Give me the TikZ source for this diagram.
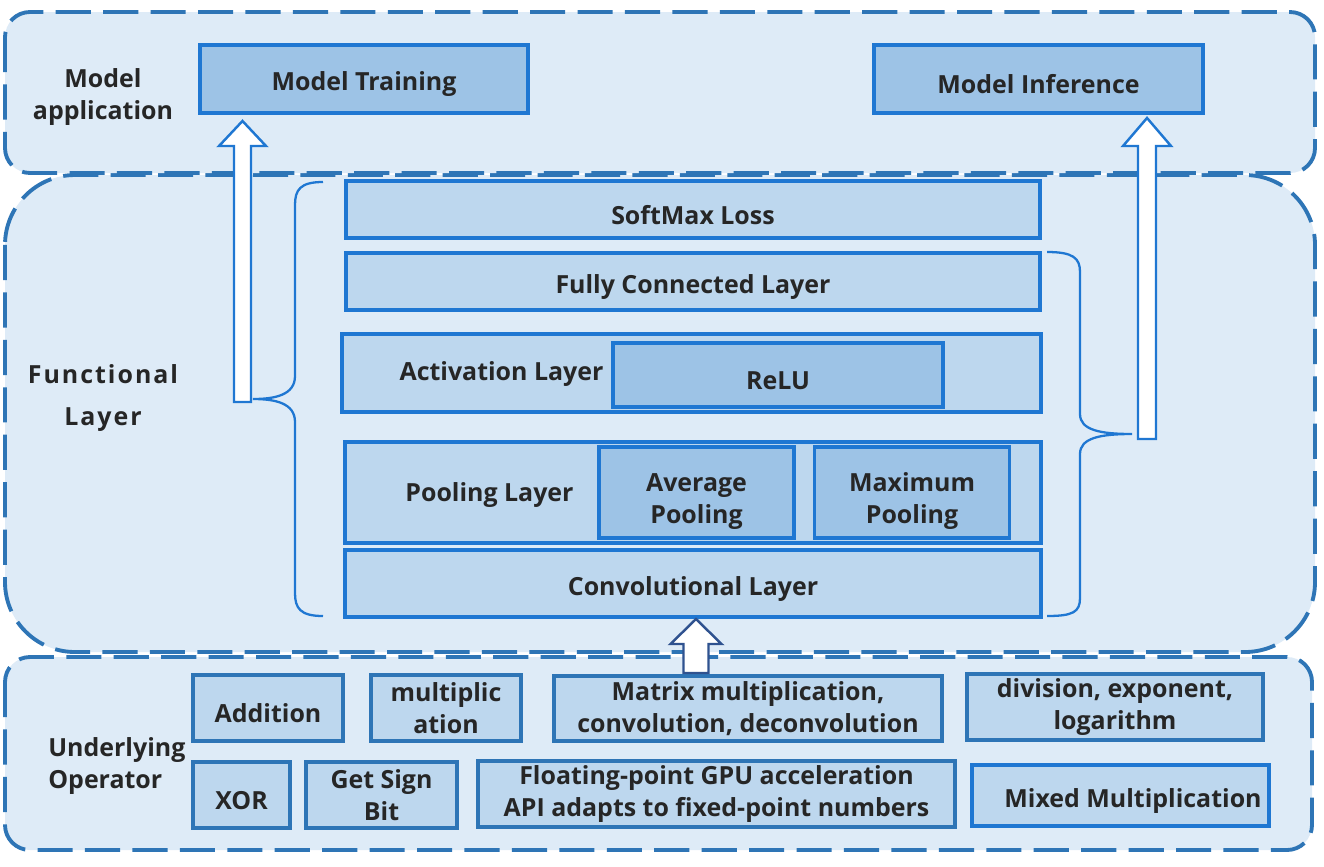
\documentclass[tikz,border=0pt]{standalone}
\usepackage{fontspec}
\setmainfont{Open Sans}
\usepackage{tikz}
\usetikzlibrary{calc}

\definecolor{regionfill}{RGB}{222,235,247}
\definecolor{layerfill}{RGB}{189,215,238}
\definecolor{subfill}{RGB}{157,195,230}
\definecolor{brightblue}{RGB}{31,119,210}
\definecolor{opblue}{RGB}{46,117,182}
\definecolor{navyblue}{RGB}{47,82,143}
\definecolor{txt}{RGB}{38,38,38}

\begin{document}
\begin{tikzpicture}[x=0.02cm,y=-0.02cm,
    every node/.style={font=\bfseries\fontsize{14.2}{18.5}\selectfont,text=txt},
    region/.style={draw=opblue,fill=regionfill,line width=2.2pt,dash pattern=on 20pt off 7pt},
    layerbox/.style={draw=brightblue,fill=layerfill,line width=2pt,inner sep=0pt,align=center,
        execute at begin node={\rule{0pt}{1.2em}}},
    subbox/.style={layerbox,fill=subfill},
    opbox/.style={layerbox,draw=opblue},
    bracket/.style={draw=brightblue,line width=1.3pt},
    hollow/.style={draw=brightblue,fill=white,line width=1.4pt,line join=miter}]
    \useasboundingbox (0,0) rectangle (1324,866);

    % Regions
    \draw[region,rounded corners=1.4cm] (5,175) rectangle (1315,652);
    \draw[region,rounded corners=0.5cm] (5,12) rectangle (1315,173);
    \draw[region,rounded corners=0.5cm] (5,657) rectangle (1312,850);

    % Region labels
    \node[align=center] (app) at (103,97) {Model\\application};
    \node[align=center,font=\bfseries\fontsize{14.2}{24}\selectfont\addfontfeature{LetterSpace=8}] (func) at (103,398) {Functional\\Layer};
    \node[align=left,anchor=west,inner sep=0pt] (oper) at (48,766) {Underlying\\Operator};

    % Model application
    \node[subbox,minimum width=6.56cm,minimum height=1.36cm] (train) at (364,79) {Model Training};
    \node[subbox,minimum width=6.58cm,minimum height=1.36cm] (infer) at (1038.5,79) {Model Inference};

    % Functional layer
    \node[layerbox,minimum width=13.88cm,minimum height=1.14cm] (softmax) at (693,209.5) {SoftMax Loss};
    \node[layerbox,minimum width=13.88cm,minimum height=1.14cm] (fc) at (693,281.5) {Fully Connected Layer};
    \node[layerbox,minimum width=13.98cm,minimum height=1.56cm] (act) at (691.5,373) {};
    \node (actlbl) at (501.5,374) {Activation Layer};
    \node[subbox,minimum width=6.6cm,minimum height=1.28cm] (relu) at (778,375) {ReLU};
    \node[layerbox,minimum width=13.92cm,minimum height=2.02cm] (pool) at (693,492.5) {};
    \node (poollbl) at (489.5,495) {Pooling Layer};
    \node[subbox,minimum width=3.9cm,minimum height=1.82cm] (avg) at (696.5,492.5) {\rule{0pt}{1.45em}Average\\Pooling};
    \node[subbox,minimum width=3.9cm,minimum height=1.82cm] (max) at (912,492.5) {\rule{0pt}{1.45em}Maximum\\Pooling};
    \node[layerbox,minimum width=13.92cm,minimum height=1.34cm] (conv) at (693,583.5) {Convolutional Layer};

    % Underlying operators
    \node[opbox,minimum width=3cm,minimum height=1.32cm] (add) at (268,708) {Addition};
    \node[opbox,minimum width=3cm,minimum height=1.32cm] (mult) at (446,708) {multiplic\\ation};
    \node[opbox,minimum width=7.76cm,minimum height=1.3cm] (matrix) at (748,708.5) {Matrix multiplication,\\convolution, deconvolution};
    \node[opbox,minimum width=5.92cm,minimum height=1.32cm] (div) at (1115,707) {division, exponent,\\logarithm};
    \node[opbox,minimum width=1.94cm,minimum height=1.32cm] (xor) at (241.5,795) {XOR};
    \node[opbox,minimum width=3.02cm,minimum height=1.32cm] (sign) at (381.5,795) {Get Sign\\Bit};
    \node[opbox,minimum width=9.54cm,minimum height=1.32cm] (float) at (716.5,794) {Floating-point GPU acceleration\\API adapts to fixed-point numbers};
    \node[opbox,draw=brightblue,minimum width=5.94cm,minimum height=1.22cm] (mixed) at (1120.5,795.5) {\hspace*{0.5cm}Mixed Multiplication};

    % Braces
    \coordinate (ltip) at (253,399);
    \coordinate (rtip) at (1132,434);
    \draw[bracket] (323,182) .. controls (300,182) and (295,190) .. (295,205) -- (295,376)
        .. controls (295,395) and (275,399) .. (ltip) .. controls (275,399) and (295,403) .. (295,422)
        -- (295,593) .. controls (295,608) and (300,616) .. (323,616);
    \draw[bracket] (1047,252) .. controls (1073,252) and (1080,258) .. (1080,272) -- (1080,414)
        .. controls (1080,430) and (1100,434) .. (rtip) .. controls (1100,434) and (1080,438) .. (1080,454)
        -- (1080,598) .. controls (1080,612) and (1073,616) .. (1047,616);

    % Arrows
    \coordinate (lfoot) at (242.5,402);
    \coordinate (rfoot) at (1147,439);
    \coordinate (bfoot) at (696,673);
    \draw[hollow] (lfoot) ++(-8.5,0) -- ++(0,-256) -- ++(-15,0) -- ++(23.5,-25) -- ++(23.5,25) -- ++(-15,0) -- ++(0,256) -- cycle;
    \draw[hollow] (rfoot) ++(-9,0) -- ++(0,-293) -- ++(-15,0) -- ++(24,-28) -- ++(24,28) -- ++(-15,0) -- ++(0,293) -- cycle;
    \draw[hollow,draw=navyblue] (bfoot) ++(-12.5,0) -- ++(0,-29) -- ++(-13,0) -- ++(25.5,-25) -- ++(25.5,25) -- ++(-13,0) -- ++(0,29) -- cycle;
\end{tikzpicture}
\end{document}
